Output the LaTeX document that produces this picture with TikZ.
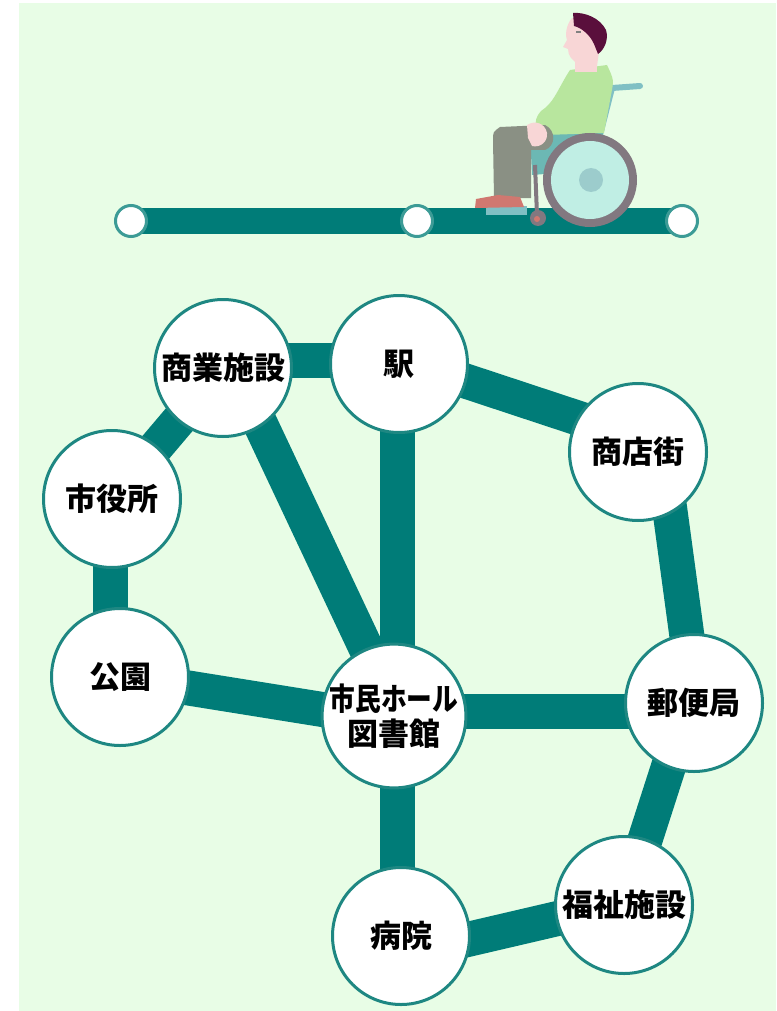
\documentclass[tikz,border=0pt]{standalone}
\usepackage{fontspec}
\newfontfamily\jp{Noto Sans CJK JP}
\usetikzlibrary{calc}
\definecolor{bgmint}{RGB}{232,253,230}
\definecolor{roadteal}{RGB}{0,124,120}
\definecolor{ringteal}{RGB}{30,135,130}
\definecolor{smallring}{RGB}{60,155,150}
\definecolor{hair}{RGB}{90,15,60}
\definecolor{skin}{RGB}{248,214,214}
\definecolor{shirt}{RGB}{184,230,158}
\definecolor{trouser}{RGB}{138,144,132}
\definecolor{shoe}{RGB}{208,120,112}
\definecolor{chair}{RGB}{128,192,196}
\definecolor{seatteal}{RGB}{108,184,180}
\definecolor{rimgray}{RGB}{130,120,128}
\definecolor{wheelin}{RGB}{192,238,228}
\definecolor{hub}{RGB}{156,204,204}
\pgfdeclarelayer{bg}
\pgfsetlayers{bg,main}
\begin{document}
\begin{tikzpicture}[x=1pt,y=-1pt,
  spot/.style={circle, draw=ringteal, line width=3pt, fill=white,
    minimum size=137pt, inner sep=0pt, text=black,
    font=\jp\bfseries\fontsize{31}{36}\selectfont},
  stop/.style={circle, draw=smallring, line width=3pt, fill=white,
    minimum size=31pt, inner sep=0pt},
  road/.style={draw=roadteal, line width=35pt},
  rail/.style={draw=roadteal, line width=26pt}]
\useasboundingbox (0,0) rectangle (776,1011);

% places on the map
\node[spot] (A) at (223,368) {商業施設};
\node[spot] (B) at (399,364) {駅};
\node[spot] (C) at (638,452) {商店街};
\node[spot] (D) at (112,499) {市役所};
\node[spot] (E) at (120,677) {公園};
\node[spot, align=center] (F) at (394,716)
  {\scalebox{0.83}[1]{市民ホール}\\[-1pt]図書館};
\node[spot] (G) at (694,703) {郵便局};
\node[spot] (H) at (624,905) {福祉施設};
\node[spot] (I) at (401,936) {病院};

% stops on the upper line
\node[stop] (s1) at (131,221) {};
\node[stop] (s2) at (417,221) {};
\node[stop] (s3) at (682,221) {};

\begin{pgfonlayer}{bg}
  \fill[white] (0,0) rectangle (776,1011);
  \fill[bgmint] (19,3) rectangle (776,1011);
  \draw[rail] (s1.center) -- (s3.center);
  \draw[road] ($(A)+(0,-8)$) -- ($(B)+(0,-4)$);
  \draw[road] ($(B)+(0,-5)$) -- ($(C)+(0,-14)$);
  \draw[road] (A.center) -- (D.center);
  \draw[road] ($(D)+(-2,0)$) -- ($(E)+(-10,0)$);
  \draw[road] ($(A)+(11,0)$) -- ($(F)+(4,0)$);
  \draw[road] ($(B)+(-2,0)$) -- ($(F)+(3,0)$);
  \draw[road] (E.center) -- ($(F)+(0,5)$);
  \draw[road] ($(C)+(24,0)$) -- ($(G)+(2,0)$);
  \draw[road] ($(F)+(0,-5)$) -- ($(G)+(0,8)$);
  \draw[road] ($(G)+(-5,0)$) -- (H.center);
  \draw[road] ($(F)+(3,0)$) -- ($(I)+(-4,0)$);
  \draw[road] ($(I)+(0,19)$) -- ($(H)+(0,-2)$);
\end{pgfonlayer}

% person in a wheelchair on the upper line
\draw[chair, line width=6pt, line cap=round] (640,86) -- (612,88) -- (600,135);
\fill[seatteal] (530,133) -- (603,133) -- (596,170) -- (532,175) -- cycle;
\fill[shirt] (570,70) -- (607,65) .. controls (614,80) .. (611,95) -- (604,133)
  -- (545,135) .. controls (532,132) and (533,115) .. (545,108)
  .. controls (555,100) and (560,85) .. (570,70) -- cycle;
\fill[trouser] (500,127) -- (545,125) .. controls (556,130) and (556,146) .. (545,150)
  -- (531,150) -- (531,198) -- (494,198) -- (493,140)
  .. controls (493,132) .. (500,127) -- cycle;
\fill[skin] (527,125) .. controls (535,120) and (545,123) .. (547,133)
  .. controls (548,142) and (540,148) .. (532,146) -- (528,138) -- cycle;
\fill[skin] (575,58) rectangle (597,72);
\fill[skin] (572,18) .. controls (566,25) and (565,35) .. (567,40) -- (563,47) -- (568,49)
  .. controls (568,55) and (572,62) .. (580,64) -- (597,66) -- (600,45) -- (595,22) -- cycle;
\fill[hair] (573,13) .. controls (585,12) and (600,18) .. (606,30)
  .. controls (609,40) and (604,50) .. (598,54) -- (594,44)
  .. controls (590,35) and (582,28) .. (574,26) -- cycle;
\fill[gray] (576,31) rectangle (581,33);
\fill[rimgray] (590,180) circle (47);
\fill[wheelin] (590,180) circle (39);
\fill[hub] (591,180) circle (12);
\draw[rimgray, line width=4pt] (535,165) -- (537,215);
\fill[chair] (486,206) rectangle (527,215);
\fill[shoe] (476,199) -- (498,195) -- (520,197) -- (524,207) -- (475,208) -- cycle;
\fill[rimgray] (538,218) circle (8);
\fill[shoe] (537,219) circle (3);
\end{tikzpicture}
\end{document}
